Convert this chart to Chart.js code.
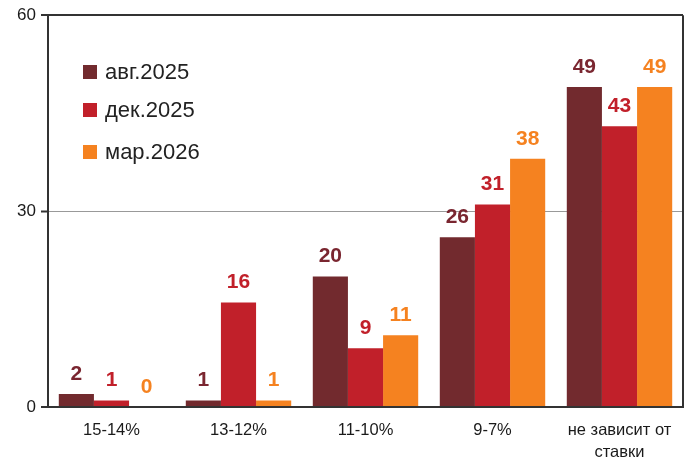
<!DOCTYPE html>
<html>
<head>
<meta charset="utf-8">
<script src="https://cdn.jsdelivr.net/npm/chart.js@4"></script>
<style>
html,body{margin:0;padding:0;background:#fff;}
#wrap{width:700px;height:467px;position:relative;}
</style>
</head>
<body>
<div id="wrap"><canvas id="c"></canvas></div>
<script>
const categories = ["15-14%", "13-12%", "11-10%", "9-7%", ["не зависит от", "ставки"]];
const seriesNames = ["авг.2025", "дек.2025", "мар.2026"];
const aug2025 = [2, 1, 20, 26, 49];
const dec2025 = [1, 16, 9, 31, 43];
const mar2026 = [0, 1, 11, 38, 49];
const yTicks = [0, 30, 60];

const barColors = ["#722a2e", "#c1202a", "#f58220"];
const labelColors = ["#7a2630", "#c1202a", "#f58220"];
const FONT = "'Liberation Sans', Arial, sans-serif";

const frame = {
  id: 'frame',
  afterDraw(chart) {
    const {ctx, chartArea: a} = chart;
    ctx.save();
    ctx.strokeStyle = '#333';
    ctx.lineWidth = 2;
    ctx.beginPath();
    ctx.moveTo(a.right, a.top);
    ctx.lineTo(a.right, a.bottom);
    ctx.stroke();
    ctx.restore();
  }
};

const dataLabels = {
  id: 'dataLabels',
  afterDatasetsDraw(chart) {
    const ctx = chart.ctx;
    ctx.save();
    ctx.font = "bold 21px " + FONT;
    ctx.textAlign = 'center';
    ctx.textBaseline = 'middle';
    chart.data.datasets.forEach((ds, i) => {
      const meta = chart.getDatasetMeta(i);
      meta.data.forEach((bar, j) => {
        ctx.fillStyle = labelColors[i];
        ctx.fillText(String(ds.data[j]), bar.x, bar.y - 20);
      });
    });
    ctx.restore();
  }
};

const innerLegend = {
  id: 'innerLegend',
  afterDraw(chart) {
    const ctx = chart.ctx;
    ctx.save();
    ctx.font = "22px " + FONT;
    ctx.textBaseline = 'middle';
    ctx.textAlign = 'left';
    const x0 = 83, ys = [72, 110, 152];
    chart.data.datasets.forEach((ds, i) => {
      ctx.fillStyle = barColors[i];
      ctx.fillRect(x0, ys[i] - 7, 14, 14);
      ctx.fillStyle = '#222';
      ctx.fillText(ds.label, x0 + 22, ys[i] + 1);
    });
    ctx.restore();
  }
};

new Chart(document.getElementById('c'), {
  type: 'bar',
  data: {
    labels: categories,
    datasets: [
      {label: seriesNames[0], data: aug2025, backgroundColor: barColors[0]},
      {label: seriesNames[1], data: dec2025, backgroundColor: barColors[1]},
      {label: seriesNames[2], data: mar2026, backgroundColor: barColors[2]}
    ]
  },
  options: {
    responsive: true,
    maintainAspectRatio: false,
    animation: false,
    devicePixelRatio: 1,
    layout: {padding: {top: 15, right: 17, left: 0, bottom: 0}},
    datasets: {bar: {barPercentage: 1, categoryPercentage: 0.83}},
    plugins: {legend: {display: false}, tooltip: {enabled: false}},
    scales: {
      x: {
        grid: {display: false, drawTicks: false},
        border: {display: true, color: '#333', width: 2},
        ticks: {color: '#1a1a1a', font: {family: FONT, size: 16.5, lineHeight: 1.3}, padding: 13, maxRotation: 0, autoSkip: false},
        afterFit(s) { s.height = 60; }
      },
      y: {
        min: 0, max: 60,
        afterBuildTicks(s) { s.ticks = yTicks.map(v => ({value: v})); },
        grid: {
          color: ctx => ctx.tick && ctx.tick.value === 30 ? '#999' : '#333',
          lineWidth: ctx => ctx.tick && ctx.tick.value === 30 ? 1 : 2,
          tickColor: '#333',
          tickWidth: 2,
          tickLength: 7,
          drawOnChartArea: true
        },
        border: {display: true, color: '#333', width: 2},
        ticks: {color: '#1a1a1a', font: {family: FONT, size: 17}, padding: 5},
        afterFit(s) { s.width = 48; }
      }
    }
  },
  plugins: [frame, dataLabels, innerLegend]
});
</script>
</body>
</html>
